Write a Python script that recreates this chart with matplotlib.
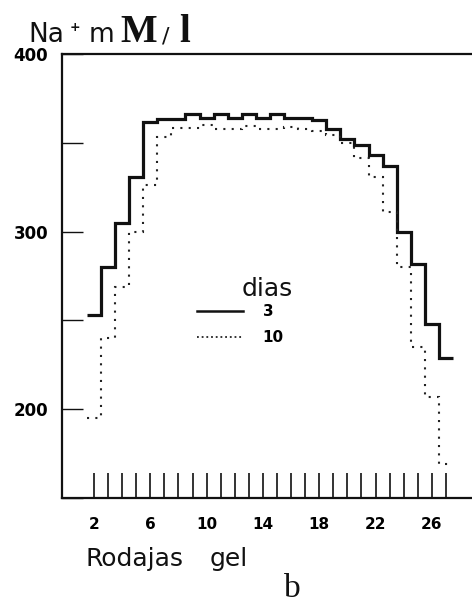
import numpy as np
import matplotlib
matplotlib.use("Agg")
import matplotlib.pyplot as plt
from matplotlib.lines import Line2D

# gel slices and Na+ (mM/l) after 3 and 10 days
slices = np.arange(2, 28)
na_3d = [253, 280, 305, 331, 361.5, 363.5, 363.5, 366, 364, 366, 364, 366, 364,
         366, 364, 364, 363, 358, 352, 348.5, 343, 337, 300, 282, 248, 229]
na_10d = [195, 240, 269, 300, 326.5, 353.3, 358.4, 358.4, 360.2, 358, 358, 359.3,
          357.8, 357.8, 358.7, 357.8, 356.5, 354.6, 350, 341.6, 331, 311, 280,
          235, 207, 169]
xtick_labels = ["2", "6", "10", "14", "18", "22", "26"]
ytick_labels = ["200", "300", "400"]

W, H = 472, 604
fig = plt.figure(figsize=(W / 100, H / 100), dpi=100, facecolor="white")
ax = fig.add_axes([62 / W, 106 / H, 410 / W, 444 / H])

edges = np.append(slices - 0.5, slices[-1] + 0.5)
ax.stairs(na_3d, edges, baseline=None, color="#111111", lw=2.3)
ax.stairs(na_10d, edges, baseline=None, color="#222222", lw=1.5,
          linestyle=(0, (1, 3.0)))

ax.set_xlim(-0.27, 28.85)
ax.set_ylim(151.3, 400)

# x ticks: every slice, labels every 4
ax.set_xticks(slices)
ax.set_xticklabels([str(s) if str(s) in xtick_labels else "" for s in slices],
                   fontsize=11, fontweight="bold")
ax.tick_params(axis="x", direction="in", length=18, width=1.2, pad=14,
               color="#111111")

yt = np.arange(150, 401, 50)
ax.set_yticks(yt)
ax.set_yticklabels([str(v) if str(v) in ytick_labels else "" for v in yt],
                   fontsize=12, fontweight="bold")
ax.tick_params(axis="y", direction="in", length=15, width=1.0, pad=10,
               color="#111111")

for side in ("left", "bottom", "top"):
    ax.spines[side].set_linewidth(1.6)
    ax.spines[side].set_color("#111111")
ax.spines["right"].set_visible(False)

# legend
handles = [Line2D([], [], color="#111111", lw=1.8),
           Line2D([], [], color="#222222", lw=1.3, linestyle=(0, (1, 1.6)))]
ax.legend(handles, ["3", "10"], loc="upper left",
          bbox_to_anchor=((197 - 62) / 410, (498 - 304) / 444),
          frameon=False, borderpad=0, borderaxespad=0, handlelength=3.0,
          handletextpad=1.3, labelspacing=0.75,
          prop={"size": 11, "weight": "bold"})
ax.text((242 - 62) / 410, (498 - 296) / 444, "dias", transform=ax.transAxes,
        fontsize=18, va="baseline", ha="left", color="#111111")

# axis titles
fig.text(85 / W, 1 - 566 / H, "Rodajas", fontsize=18, va="baseline",
         ha="left", color="#111111")
fig.text(210 / W, 1 - 566 / H, "gel", fontsize=18, va="baseline",
         ha="left", color="#111111")
fig.text(292 / W, 1 - 597 / H, "b", fontsize=24, va="baseline", ha="center",
         family="Liberation Serif", color="#111111")

# y unit label: Na+ mM/l
fig.text(28 / W, 1 - 42 / H, "Na", fontsize=19, va="baseline", ha="left",
         color="#111111")
fig.text(70 / W, 1 - 31 / H, "+", fontsize=9, va="baseline", ha="left",
         fontweight="bold", color="#111111")
fig.text(89 / W, 1 - 42 / H, "m", fontsize=19, va="baseline", ha="left",
         color="#111111")
fig.text(120 / W, 1 - 42 / H, "M", fontsize=28, va="baseline", ha="left",
         family="Liberation Serif", fontweight="bold", color="#111111")
fig.text(162 / W, 1 - 42 / H, "/", fontsize=16, va="baseline", ha="left",
         color="#111111")
fig.text(179 / W, 1 - 42 / H, "l", fontsize=28, va="baseline", ha="left",
         family="Liberation Serif", fontweight="bold", color="#111111")

fig.savefig("out.png", dpi=100, facecolor="white")
